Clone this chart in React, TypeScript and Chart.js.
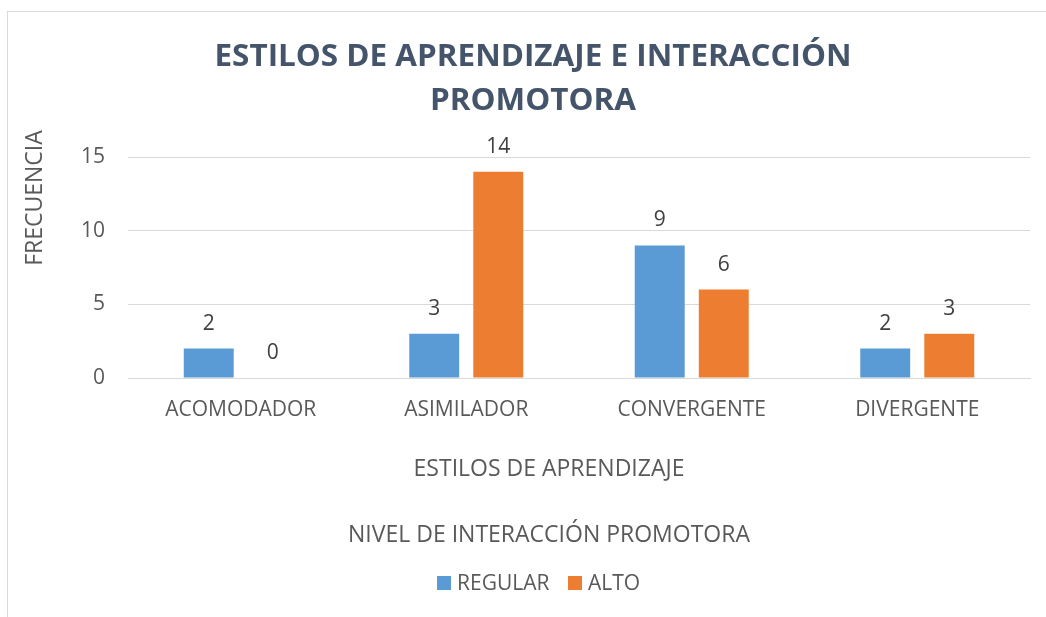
import React, { useEffect, useRef } from "react";
import { Chart, registerables } from "chart.js";

Chart.register(...registerables);

const categories = ["ACOMODADOR", "ASIMILADOR", "CONVERGENTE", "DIVERGENTE"];
const regularValues = [2, 3, 9, 2];
const altoValues = [0, 14, 6, 3];
const seriesNames = ["REGULAR", "ALTO"];
const seriesColors = ["#5B9BD5", "#ED7D31"];
const titleLines = ["ESTILOS DE APRENDIZAJE E INTERACCIÓN", "PROMOTORA"];
const yTitle = "FRECUENCIA";
const xTitle = "ESTILOS DE APRENDIZAJE";
const legendTitle = "NIVEL DE INTERACCIÓN PROMOTORA";

const FONT = "'Open Sans', 'DejaVu Sans', sans-serif";

const textPlugin = {
  id: "customTexts",
  afterDraw(chart: any) {
    const ctx = chart.ctx;
    ctx.save();
    // Title
    ctx.fillStyle = "#44546A";
    ctx.font = `bold 30px ${FONT}`;
    ctx.textAlign = "center";
    ctx.textBaseline = "middle";
    const w1 = ctx.measureText(titleLines[0]).width;
    const sx = 637 / w1;
    const ys = [57, 101];
    titleLines.forEach((line, i) => {
      ctx.save();
      ctx.translate(533, ys[i]);
      ctx.scale(sx, 1);
      ctx.fillText(line, 0, 0);
      ctx.restore();
    });
    // Y title
    ctx.fillStyle = "#595959";
    ctx.font = `23px ${FONT}`;
    ctx.save();
    ctx.translate(35, 198);
    ctx.rotate(-Math.PI / 2);
    ctx.fillText(yTitle, 0, 0);
    ctx.restore();
    // X title
    ctx.fillText(xTitle, 549, 469);
    // Legend title
    ctx.fillText(legendTitle, 549, 535);
    // Legend items
    ctx.textAlign = "left";
    ctx.font = `21px ${FONT}`;
    const items = [
      { x: 437, label: seriesNames[0], color: seriesColors[0] },
      { x: 568, label: seriesNames[1], color: seriesColors[1] },
    ];
    items.forEach((it) => {
      ctx.fillStyle = it.color;
      ctx.fillRect(it.x, 576, 14, 14);
      ctx.fillStyle = "#595959";
      ctx.fillText(it.label, it.x + 20, 584);
    });
    ctx.restore();
  },
  afterDatasetsDraw(chart: any) {
    const ctx = chart.ctx;
    ctx.save();
    ctx.fillStyle = "#404040";
    ctx.font = `21px ${FONT}`;
    ctx.textAlign = "center";
    ctx.textBaseline = "middle";
    chart.data.datasets.forEach((ds: any, di: number) => {
      const meta = chart.getDatasetMeta(di);
      meta.data.forEach((el: any, i: number) => {
        ctx.fillText(String(ds.data[i]), el.x, el.y - 25);
      });
    });
    ctx.restore();
  },
};

export default function App() {
  const ref = useRef<HTMLCanvasElement | null>(null);
  useEffect(() => {
    if (!ref.current) return;
    const chart = new Chart(ref.current, {
      type: "bar",
      data: {
        labels: categories,
        datasets: [
          {
            label: seriesNames[0],
            data: regularValues,
            backgroundColor: seriesColors[0],
            categoryPercentage: 0.568,
            barPercentage: 0.78,
          },
          {
            label: seriesNames[1],
            data: altoValues,
            backgroundColor: seriesColors[1],
            categoryPercentage: 0.568,
            barPercentage: 0.78,
          },
        ],
      },
      options: {
        responsive: false,
        animation: false,
        devicePixelRatio: 1,
        layout: { padding: { top: 157, right: 16, left: 0, bottom: 0 } },
        plugins: {
          legend: { display: false },
          title: { display: false },
          tooltip: { enabled: false },
        },
        scales: {
          x: {
            grid: { display: false, drawTicks: false },
            border: { display: true, color: "#D9D9D9", width: 1 },
            ticks: {
              color: "#595959",
              font: { family: FONT, size: 21 },
              padding: 19,
              maxRotation: 0,
            },
            afterFit: (scale: any) => {
              scale.height = 239;
            },
          },
          y: {
            min: 0,
            max: 15,
            ticks: {
              stepSize: 5,
              color: "#595959",
              font: { family: FONT, size: 21 },
              padding: 23,
            },
            grid: { color: "#D9D9D9", lineWidth: 1, drawTicks: false },
            border: { display: false },
            afterFit: (scale: any) => {
              scale.width = 128;
            },
          },
        },
      },
      plugins: [textPlugin],
    });
    return () => chart.destroy();
  }, []);

  return (
    <div
      style={{
        position: "fixed",
        left: 0,
        top: 0,
        width: 1046,
        height: 617,
        overflow: "hidden",
        background: "#fff",
      }}
    >
      <div
        style={{
          position: "absolute",
          left: 7,
          top: 11,
          width: 1200,
          height: 800,
          border: "1px solid #D9D9D9",
          boxSizing: "border-box",
        }}
      />
      <canvas
        ref={ref}
        width={1046}
        height={617}
        style={{ position: "absolute", left: 0, top: 0, width: 1046, height: 617 }}
      />
    </div>
  );
}
